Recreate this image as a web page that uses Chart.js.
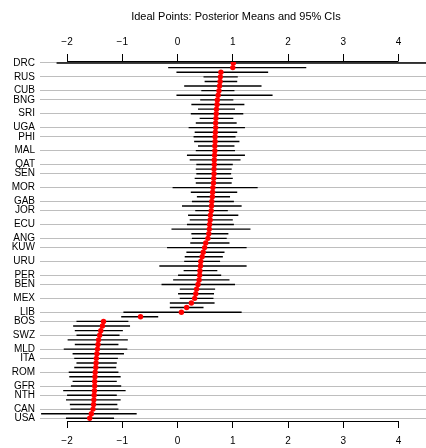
<!DOCTYPE html>
<html>
<head>
<meta charset="utf-8">
<script src="https://cdn.jsdelivr.net/npm/chart.js@4.4.0/dist/chart.umd.min.js"></script>
<style>
	body { margin: 0; overflow: hidden; background: #fff; }
</style>
</head>
<body>
<canvas id="myChart" width="436" height="448"></canvas>
<script>

	// 이름을 표시하는 행 번호 / 국가 코드
	let labelRows = [0,3,6,8,11,14,16,19,22,24,27,30,32,35,38,40,43,46,48,51,54,56,59,62,64,67,70,72,75,77];
	let labelNames = ["DRC","RUS","CUB","BNG","SRI","UGA","PHI","MAL","QAT","SEN","MOR","GAB","JOR","ECU","ANG",
	                  "KUW","URU","PER","BEN","MEX","LIB","BOS","SWZ","MLD","ITA","ROM","GFR","NTH","CAN","USA"];

	// 사후 평균 (위에서부터 행 순서)
	let means = [1.01,1.00,0.785,0.775,0.77,0.76,0.75,0.735,0.72,0.715,
	             0.705,0.70,0.695,0.69,0.69,0.685,0.68,0.68,0.675,0.675,
	             0.67,0.665,0.665,0.66,0.66,0.655,0.65,0.64,0.635,0.63,
	             0.62,0.615,0.61,0.595,0.59,0.58,0.575,0.565,0.55,0.51,
	             0.49,0.465,0.445,0.42,0.415,0.405,0.40,0.39,0.37,0.345,
	             0.33,0.31,0.25,0.165,0.07,-0.67,-1.34,-1.36,-1.39,-1.41,
	             -1.43,-1.44,-1.45,-1.46,-1.47,-1.475,-1.48,-1.49,-1.495,-1.50,
	             -1.50,-1.505,-1.51,-1.515,-1.52,-1.53,-1.56,-1.59];

	// 95% 구간 하한
	let lower = [-2.19,-0.17,-0.02,0.47,0.49,0.12,0.43,-0.02,0.41,0.25,
	             0.37,0.24,0.40,0.33,0.20,0.31,0.29,0.30,0.37,0.33,
	             0.17,0.22,0.34,0.33,0.34,0.31,0.33,-0.09,0.24,0.35,
	             0.26,0.08,0.32,0.19,0.22,0.17,-0.11,0.25,0.26,0.23,
	             -0.19,0.16,0.13,0.12,-0.33,0.11,0.00,-0.08,-0.29,0.04,
	             0.00,0.04,-0.14,-0.14,-0.98,-1.02,-1.83,-1.89,-1.86,-1.83,
	             -1.99,-1.86,-2.06,-1.90,-1.87,-1.83,-1.87,-1.97,-1.96,-1.90,
	             -1.93,-2.07,-2.00,-2.02,-1.95,-1.94,-2.47,-2.02];

	// 95% 구간 상한
	let upper = [4.8,2.33,1.64,1.09,1.08,1.52,1.03,1.72,1.01,1.21,
	             1.04,1.19,1.01,1.07,1.22,1.08,1.05,1.12,1.03,1.04,
	             1.22,1.14,1.00,0.98,0.97,1.00,0.98,1.45,1.08,0.95,
	             1.02,1.16,0.91,1.10,1.00,1.02,1.32,0.92,0.89,0.94,
	             1.25,0.85,0.82,0.77,1.25,0.72,0.79,0.94,1.04,0.68,
	             0.66,0.65,0.67,0.47,1.16,-0.35,-0.89,-0.86,-0.99,-1.05,
	             -0.90,-1.07,-0.91,-0.97,-1.08,-1.10,-1.11,-1.07,-1.03,-1.10,
	             -1.02,-0.94,-1.10,-1.03,-1.09,-1.07,-0.74,-1.15];

	let xTicks = [-2,-1,0,1,2,3,4];

	let xMin = -2.49, xMax = 4.606;
	let yMin = -0.43, yMax = 77.58;

	let rows = means.map(function(m, i){ return i; });

	Chart.defaults.font.family = '"Liberation Sans", Arial, sans-serif';
	Chart.defaults.font.size = 10;
	Chart.defaults.color = '#000';

	function minusLabel(v){
		return v < 0 ? '\u2212' + Math.abs(v) : '' + v;
	}

	// 눈금 위치 고정
	function setXTicks(scale){
		scale.ticks = xTicks.map(function(v){ return {value: v}; });
	}

	// 축선(-2 ~ 4 구간만)과 제목
	const axisLines = {
		id: 'axisLines',
		afterDraw: function(chart){
			let ctx = chart.ctx;
			let area = chart.chartArea;
			let sx = chart.scales.x;
			let x0 = sx.getPixelForValue(xTicks[0]);
			let x1 = sx.getPixelForValue(xTicks[xTicks.length - 1]);
			ctx.save();
			ctx.strokeStyle = '#000';
			ctx.lineWidth = 1;
			ctx.beginPath();
			ctx.moveTo(x0, area.top + 0.5);
			ctx.lineTo(x1, area.top + 0.5);
			ctx.moveTo(x0, area.bottom + 0.5);
			ctx.lineTo(x1, area.bottom + 0.5);
			ctx.stroke();

			ctx.fillStyle = '#000';
			ctx.font = '11px "Liberation Sans", Arial, sans-serif';
			ctx.textAlign = 'center';
			ctx.textBaseline = 'middle';
			ctx.fillText('Ideal Points: Posterior Means and 95% CIs', (area.left + area.right) / 2, 17);
			ctx.restore();
		}
	};

	var ctx = document.getElementById('myChart').getContext('2d');
	var myChart = new Chart(ctx, {
		type: 'bar',
		data: {
			datasets: [{
				type: 'scatter',
				data: rows.map(function(i){ return {x: means[i], y: i}; }),
				xAxisID: 'x',
				yAxisID: 'y',
				pointRadius: 2.7,
				pointBackgroundColor: '#ff0000',
				pointBorderWidth: 0,
				showLine: false,
				order: 0
			}, {
				type: 'bar',
				data: rows.map(function(i){ return {y: i, x: [lower[i], upper[i]]}; }),
				xAxisID: 'x',
				yAxisID: 'y',
				backgroundColor: '#000',
				borderWidth: 0,
				inflateAmount: 0,
				barThickness: 1.4,
				order: 1
			}]
		},
		options: {
			indexAxis: 'y',
			responsive: false,
			animation: false,
			devicePixelRatio: 1,
			events: [],
			layout: { padding: { left: 0, right: 1, top: 0, bottom: 0 } },
			plugins: {
				legend: { display: false },
				tooltip: { enabled: false },
				title: { display: false }
			},
			scales: {
				x: {
					type: 'linear',
					position: 'bottom',
					min: xMin,
					max: xMax,
					offset: false,
					afterBuildTicks: setXTicks,
					afterFit: function(scale){ scale.height = 27; },
					border: { display: false },
					grid: { drawOnChartArea: false, drawTicks: true, tickLength: 7, color: '#000', lineWidth: 1, offset: false },
					ticks: { padding: 7, maxRotation: 0, autoSkip: false, callback: minusLabel }
				},
				x2: {
					type: 'linear',
					position: 'top',
					min: xMin,
					max: xMax,
					offset: false,
					afterBuildTicks: setXTicks,
					afterFit: function(scale){ scale.height = 61; },
					border: { display: false },
					grid: { drawOnChartArea: false, drawTicks: true, tickLength: 7, color: '#000', lineWidth: 1, offset: false },
					ticks: { padding: 6, maxRotation: 0, autoSkip: false, callback: minusLabel }
				},
				y: {
					type: 'linear',
					position: 'left',
					reverse: true,
					min: yMin,
					max: yMax,
					offset: false,
					afterBuildTicks: function(scale){
						scale.ticks = labelRows.map(function(r){ return {value: r}; });
					},
					afterFit: function(scale){ scale.width = 40; },
					border: { display: false },
					grid: { color: '#bebebe', lineWidth: 1, drawTicks: false, offset: false },
					ticks: {
						padding: 5,
						autoSkip: false,
						callback: function(v){
							let k = labelRows.indexOf(v);
							return k >= 0 ? labelNames[k] : '';
						}
					}
				}
			}
		},
		plugins: [axisLines]
	});

</script>
</body>
</html>
